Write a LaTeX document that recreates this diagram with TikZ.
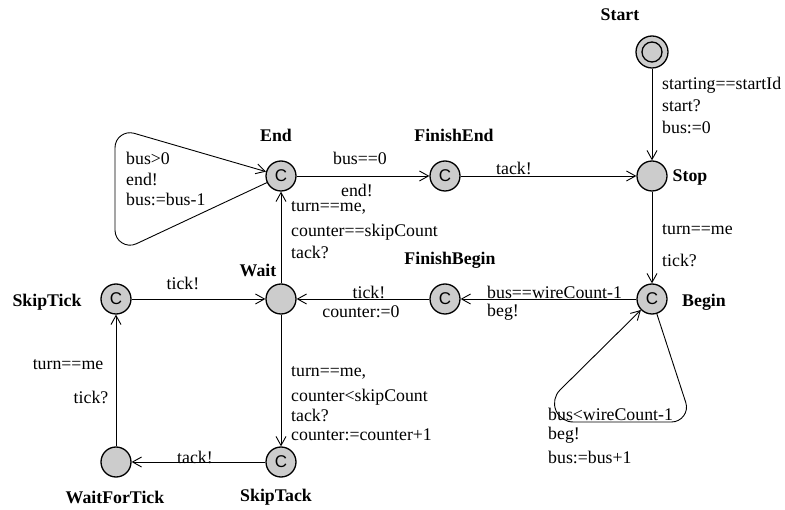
\documentclass[tikz,border=0pt]{standalone}
\usepackage{fontspec}
\setmainfont{Liberation Serif}
\newfontfamily\csans{Liberation Sans}
\usetikzlibrary{arrows.meta}
\begin{document}
\begin{tikzpicture}[x=1pt,y=-1pt,
  loc/.style={circle,draw,line width=1.3pt,fill=black!20,minimum size=30pt,inner sep=0pt},
  com/.style={loc,font=\csans\fontsize{17}{17}\selectfont},
  nm/.style={font=\bfseries\fontsize{17.8}{20}\selectfont,inner sep=0pt},
  lb/.style={font=\fontsize{17.8}{20}\selectfont,inner sep=0pt},
  lbl/.style={lb,anchor=west},
  edge/.style={draw,line width=0.9pt,-{Straight Barb[length=9pt,width=10pt,line width=0.9pt]}},
]
\useasboundingbox (0,0) rectangle (785,510);
% locations
\node[loc,minimum size=32pt] (start) at (652,52) {};
\draw[line width=1.3pt] (start.center) circle (10pt);
\node[loc] (stop) at (652,176) {};
\node[com] (end) at (281,176) {C};
\node[com] (fend) at (445,176) {C};
\node[loc] (wait) at (281,299) {};
\node[com] (fbegin) at (445,299) {C};
\node[com] (begin) at (652,299) {C};
\node[com] (skiptick) at (116,299) {C};
\node[com] (skiptack) at (281,462) {C};
\node[loc] (waitfortick) at (116,462) {};
% names
\node[nm] (nStart) at (620,15) {Start};
\node[nm] (nStop) at (690,178) {Stop};
\node[nm] (nEnd) at (276,135) {End};
\node[nm] (nFEnd) at (454,135) {FinishEnd};
\node[nm] (nWait) at (258,270) {Wait};
\node[nm] (nFBegin) at (450,260) {FinishBegin};
\node[nm] (nBegin) at (704,302) {Begin};
\node[nm] (nSkipTick) at (47,302) {SkipTick};
\node[nm] (nWaitForTick) at (115,497) {WaitForTick};
\node[nm] (nSkipTack) at (276,497) {SkipTack};
% edges
\draw[edge] (start) -- (stop);
\draw[edge] (fend) -- (stop);
\draw[edge] (end) -- (fend);
\draw[edge] (stop) -- (begin);
\draw[edge] (begin) -- (fbegin);
\draw[edge] (fbegin) -- (wait);
\draw[edge] (skiptick) -- (wait);
\draw[edge] (wait) -- (end);
\draw[edge] (wait) -- (skiptack);
\draw[edge] (skiptack) -- (waitfortick);
\draw[edge] (waitfortick) -- (skiptick);
% End self loop
\draw[edge] (end) -- (136.5,243.7) .. controls (126.5,248.5) and (115,241.2) .. (115,230.2)
  -- (115,147.7) .. controls (115,137.7) and (124.5,130.6) .. (134.1,133.3) -- (end);
% Begin self loop
\draw[edge] (begin) -- (685.8,402.6) .. controls (688.9,412.2) and (681.6,422) .. (671.5,422)
  -- (573.2,422) .. controls (565.6,422) and (558.8,417.4) .. (555.9,410.4)
  .. controls (553.0,403.4) and (554.65,395.35) .. (560,390) -- (begin);
% labels
\node[lbl] (l1) at (662,85) {starting==startId};
\node[lbl] (l2) at (662,106) {start?};
\node[lbl] (l3) at (662,127) {bus:=0};
\node[lb] (l4) at (514,168) {tack!};
\node[lb] (l5) at (360,158) {bus==0};
\node[lb] (l6) at (357,190) {end!};
\node[lbl] (l7) at (126,158) {bus>0};
\node[lbl] (l8) at (126,179) {end!};
\node[lbl] (l9) at (126,199) {bus:=bus-1};
\node[lbl] (l10) at (291,208) {turn==me,};
\node[lbl] (l11) at (291,232) {counter==skipCount};
\node[lbl] (l12) at (291,252) {tack?};
\node[lbl] (l13) at (662,230) {turn==me};
\node[lbl] (l14) at (662,260) {tick?};
\node[lbl] (l15) at (487,292) {bus==wireCount-1};
\node[lbl] (l16) at (487,312) {beg!};
\node[lbl] (l17) at (548,414) {bus<wireCount-1};
\node[lbl] (l18) at (548,435) {beg!};
\node[lbl] (l19) at (548,457) {bus:=bus+1};
\node[lb] (l20) at (369,292) {tick!};
\node[lb] (l21) at (361,312) {counter:=0};
\node[lb] (l22) at (183,283) {tick!};
\node[lbl] (l23) at (291,373) {turn==me,};
\node[lbl] (l24) at (291,397) {counter<skipCount};
\node[lbl] (l25) at (291,415) {tack?};
\node[lbl] (l26) at (291,435) {counter:=counter+1};
\node[lb] (l27) at (195,457) {tack!};
\node[lb] (l28) at (68,365) {turn==me};
\node[lb] (l29) at (91,397) {tick?};
\end{tikzpicture}
\end{document}
